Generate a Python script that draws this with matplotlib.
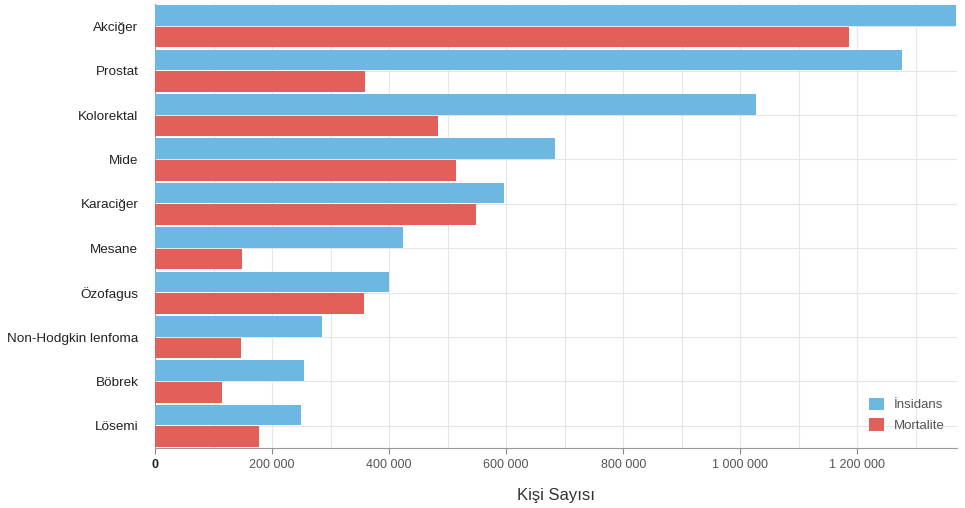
import numpy as np
import matplotlib
matplotlib.use('Agg')
import matplotlib.pyplot as plt
from matplotlib.ticker import FuncFormatter, MultipleLocator

plt.rcParams['font.family'] = ['Liberation Sans', 'DejaVu Sans']

kanserler = ['Akciğer', 'Prostat', 'Kolorektal', 'Mide', 'Karaciğer', 'Mesane',
             'Özofagus', 'Non-Hodgkin lenfoma', 'Böbrek', 'Lösemi']
insidans = [1368524, 1276106, 1026215, 683754, 596574, 424082, 399699, 284713, 254507, 249454]
mortalite = [1184947, 358989, 484224, 513555, 548375, 148270, 357190, 146940, 113822, 178000]

mavi = '#6cb8e2'
kirmizi = '#e35f5a'

fig = plt.figure(figsize=(9.65, 5.08), dpi=100)
ax = fig.add_axes([0.1606, 0.118, 0.831, 0.874])

y = np.arange(len(kanserler))
h = 0.465
ax.barh(y - h / 2 - 0.01, insidans, height=h, color=mavi, label='İnsidans', zorder=3)
ax.barh(y + h / 2 + 0.01, mortalite, height=h, color=kirmizi, label='Mortalite', zorder=3)

ax.set_yticks(y)
ax.set_yticklabels(kanserler, fontsize=9.7, color='#222222')
ax.set_ylim(len(kanserler) - 0.5, -0.5)
ax.set_xlim(0, 1370000)

ax.xaxis.set_major_locator(MultipleLocator(200000))
ax.xaxis.set_minor_locator(MultipleLocator(100000))
ax.xaxis.set_major_formatter(FuncFormatter(lambda v, p: f'{int(v):,}'.replace(',', ' ')))
ax.tick_params(axis='x', which='major', length=4, color='#888888', pad=4,
               labelsize=9, labelcolor='#555555')
ax.tick_params(axis='x', which='minor', length=0)
ax.tick_params(axis='y', length=0, pad=12)

ax.grid(axis='x', which='both', color='#e6e6e6', linewidth=0.8, zorder=0)
ax.grid(axis='y', color='#e6e6e6', linewidth=0.8, zorder=0)

for s in ['top', 'right']:
    ax.spines[s].set_visible(False)
ax.spines['left'].set_color('#999999')
ax.spines['bottom'].set_color('#999999')

ax.set_xlabel('Kişi Sayısı', fontsize=12, color='#333333', labelpad=12)

fig.canvas.draw()
for t in ax.get_xticklabels():
    if t.get_text() == '0':
        t.set_fontweight('bold')
        t.set_color('#222222')

leg = ax.legend(loc='lower right', frameon=False, fontsize=9.5, handlelength=1.1,
                handleheight=1.1, bbox_to_anchor=(1.0, 0.01))
for t in leg.get_texts():
    t.set_color('#555555')

fig.savefig('out.png', dpi=100, facecolor='white')
